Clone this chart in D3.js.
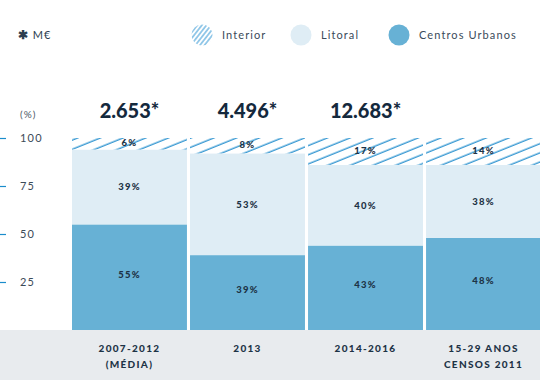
<!DOCTYPE html>
<html><head><meta charset="utf-8">
<script src="https://cdn.jsdelivr.net/npm/d3@7"></script>
<style>
html,body{margin:0;padding:0;background:#fff;}
svg{display:block;font-family:"Lato","Open Sans",sans-serif;}
</style></head>
<body>
<svg id="c" width="540" height="380"></svg>
<script>
const categories = [["2007-2012","(MÉDIA)"],["2013"],["2014-2016"],["15-29 ANOS","CENSOS 2011"]];
const totals = ["2.653*","4.496*","12.683*",""];
const centrosUrbanos = [55, 39, 44, 48];
const litoral = [39, 53, 42, 38];
const interior = [6, 8, 14, 14];
const cuLabels = ["55%","39%","43%","48%"];
const litLabels = ["39%","53%","40%","38%"];
const intLabels = ["6%","8%","17%","14%"];
const yTicks = [25, 50, 75, 100];

const svg = d3.select("#c");
const dark = "#1d3346";
const cBlue = "#67b1d5", cLight = "#dfedf5", cHatch = "#2a92d0";

const defs = svg.append("defs");
const pat = defs.append("pattern").attr("id","hatch").attr("patternUnits","userSpaceOnUse")
  .attr("width",12).attr("height",8.5).attr("patternTransform","rotate(-22)");
pat.append("rect").attr("width",12).attr("height",8.5).attr("fill","#fff");
pat.append("line").attr("x1",0).attr("x2",12).attr("y1",4).attr("y2",4)
  .attr("stroke",cHatch).attr("stroke-width",1.3);
const pat2 = defs.append("pattern").attr("id","hatch2").attr("patternUnits","userSpaceOnUse")
  .attr("width",6).attr("height",3.6).attr("patternTransform","rotate(-52)");
pat2.append("rect").attr("width",6).attr("height",3.6).attr("fill","#fff");
pat2.append("line").attr("x1",0).attr("x2",6).attr("y1",1.8).attr("y2",1.8)
  .attr("stroke","#4aa3da").attr("stroke-width",1.1);

const x = d3.scaleBand().domain(d3.range(categories.length)).range([72, 541]).paddingInner(0.026).paddingOuter(0);
const y = d3.scaleLinear().domain([0,100]).range([330,138]);

// bottom band
svg.append("rect").attr("x",0).attr("y",y(0)).attr("width",540).attr("height",380-y(0)).attr("fill","#e8ebee");

// y axis
const yAxis = d3.axisLeft(y).tickValues(yTicks).tickSize(0).tickPadding(0);
const ga = svg.append("g").attr("transform","translate(20,0)").call(yAxis);
ga.select(".domain").remove();
ga.selectAll("text").attr("text-anchor","start").attr("x",0).attr("dy","0.35em")
  .attr("font-size",11).attr("fill","#3c4a58").attr("letter-spacing","1.2px").attr("font-family","Lato, sans-serif");
svg.selectAll(".ytick").data(yTicks).enter().append("line")
  .attr("x1",0).attr("x2",6).attr("y1",d=>y(d)+0.5).attr("y2",d=>y(d)+0.5)
  .attr("stroke","#1a8ccc").attr("stroke-width",1.2);
svg.append("text").attr("x",20).attr("y",114).attr("dy","0.35em").text("(%)")
  .attr("font-size",10).attr("fill","#4a5866").attr("letter-spacing","1px");

// bars
const idx = d3.range(categories.length);
const bars = svg.append("g");
idx.forEach(i=>{
  const bx = x(i), bw = x.bandwidth();
  const c = centrosUrbanos[i], l = litoral[i], n = interior[i];
  bars.append("rect").attr("x",bx).attr("width",bw).attr("y",y(c)).attr("height",y(0)-y(c)).attr("fill",cBlue);
  bars.append("rect").attr("x",bx).attr("width",bw).attr("y",y(c+l)).attr("height",y(c)-y(c+l)).attr("fill",cLight);
  bars.append("rect").attr("x",bx).attr("width",bw).attr("y",y(c+l+n)).attr("height",y(c+l)-y(c+l+n)).attr("fill","url(#hatch)");
  const cx = bx + bw/2;
  const lab = (t, yy) => bars.append("text").attr("x",cx).attr("y",yy).attr("dy","0.35em")
    .attr("text-anchor","middle").attr("font-size",9.5).attr("font-weight",900)
    .attr("letter-spacing","1.2px").attr("fill",dark).text(t);
  lab(cuLabels[i], (y(0)+y(c))/2 - 3);
  lab(litLabels[i], (y(c)+y(c+l))/2);
  lab(intLabels[i], (y(c+l)+y(c+l+n))/2 - 1);
  if (totals[i]) svg.append("text").attr("x",cx).attr("y",111).attr("dy","0.35em")
    .attr("text-anchor","middle").attr("font-size",20).attr("font-weight",900)
    .attr("fill","#14293d").text(totals[i]);
  categories[i].forEach((t,k)=>{
    svg.append("text").attr("x",cx).attr("y",348 + k*16).attr("dy","0.35em")
      .attr("text-anchor","middle").attr("font-size",10).attr("font-weight",900)
      .attr("letter-spacing","1.3px").attr("fill",dark).text(t);
  });
});

// legend
const leg0 = svg.append("text").attr("x",18).attr("y",35).attr("dy","0.35em").attr("font-size",11)
  .attr("fill","#2c3e50").attr("letter-spacing","1px");
leg0.append("tspan").attr("font-weight",900).attr("font-size",12).text("✱");
leg0.append("tspan").text(" M€");
const legend = [
  {label:"Interior", fill:"url(#hatch2)", cx:202},
  {label:"Litoral", fill:cLight, cx:301},
  {label:"Centros Urbanos", fill:cBlue, cx:399}
];
legend.forEach(d=>{
  svg.append("circle").attr("cx",d.cx).attr("cy",35).attr("r",10.5).attr("fill",d.fill);
  svg.append("text").attr("x",d.cx+20).attr("y",35).attr("dy","0.35em").attr("font-size",11)
    .attr("fill","#3a4a5a").attr("letter-spacing","1.1px").text(d.label);
});
</script>
</body></html>
